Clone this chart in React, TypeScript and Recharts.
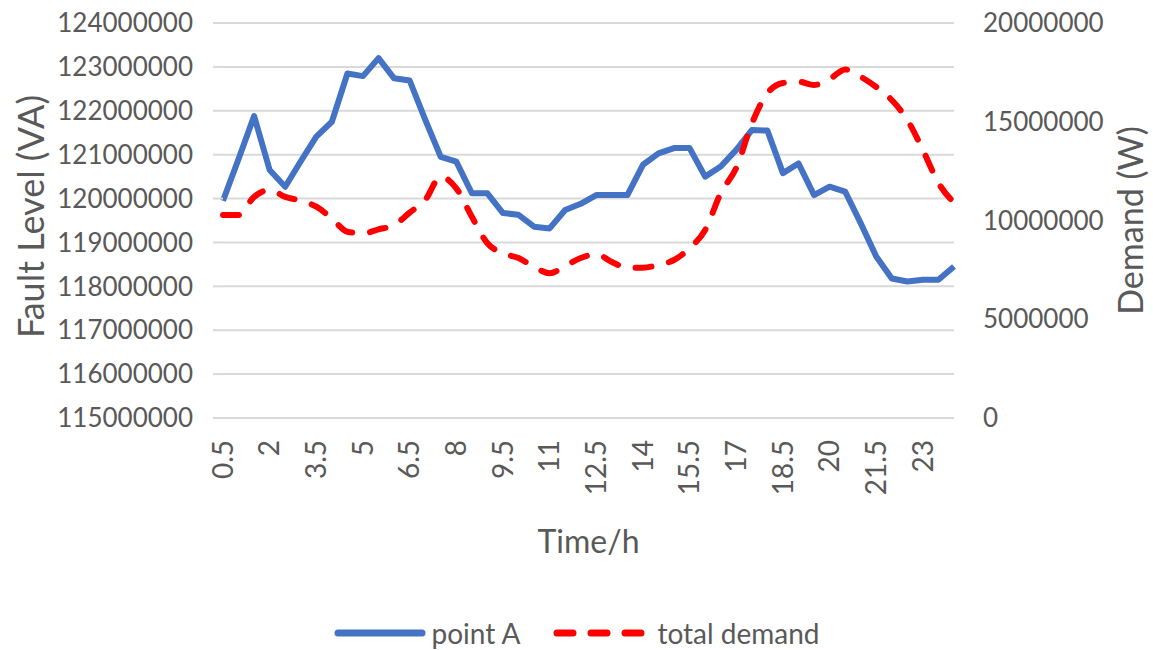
import React from 'react';
import {
  CartesianGrid,
  Label,
  Legend,
  Line,
  LineChart,
  XAxis,
  YAxis,
} from 'recharts';

const hours = [
  '0.5', '1', '1.5', '2', '2.5', '3', '3.5', '4', '4.5', '5', '5.5', '6',
  '6.5', '7', '7.5', '8', '8.5', '9', '9.5', '10', '10.5', '11', '11.5', '12',
  '12.5', '13', '13.5', '14', '14.5', '15', '15.5', '16', '16.5', '17', '17.5', '18',
  '18.5', '19', '19.5', '20', '20.5', '21', '21.5', '22', '22.5', '23', '23.5', '24',
];

// fault level at point A (VA)
const pointA = [
  119950000, 120900000, 121880000, 120650000, 120270000, 120850000, 121410000, 121750000,
  122850000, 122790000, 123200000, 122740000, 122690000, 121800000, 120950000, 120840000,
  120120000, 120120000, 119670000, 119630000, 119360000, 119320000, 119740000, 119880000,
  120080000, 120080000, 120080000, 120770000, 121030000, 121150000, 121150000, 120500000,
  120730000, 121110000, 121560000, 121550000, 120580000, 120800000, 120080000, 120270000,
  120160000, 119440000, 118680000, 118180000, 118110000, 118150000, 118150000, 118450000,
];

// total demand (W)
const totalDemand = [
  10280000, 10280000, 11200000, 11550000, 11200000, 11000000, 10700000, 10100000,
  9430000, 9350000, 9550000, 9770000, 10400000, 11040000, 12220000, 11630000,
  10190000, 8850000, 8340000, 8100000, 7650000, 7330000, 7700000, 8100000,
  8300000, 7900000, 7610000, 7610000, 7750000, 8000000, 8600000, 9520000,
  11380000, 12660000, 14900000, 16440000, 16960000, 17030000, 16860000, 17150000,
  17650000, 17280000, 16760000, 16100000, 15090000, 13570000, 11900000, 10900000,
];

const leftTicks = [
  115000000, 116000000, 117000000, 118000000, 119000000,
  120000000, 121000000, 122000000, 123000000, 124000000,
];
const rightTicks = [0, 5000000, 10000000, 15000000, 20000000];

const data = hours.map((h, i) => ({
  time: h,
  pointA: pointA[i],
  demand: totalDemand[i],
}));

const TEXT = '#595959';
const BLUE = '#4472C4';
const RED = '#FF0000';
const GRID = '#D9D9D9';

function TimeTick({ x, y, payload }: any) {
  return (
    <text
      x={x}
      y={y}
      dy="0.35em"
      transform={`rotate(-90 ${x} ${y})`}
      textAnchor="end"
      fontSize={28}
      fill={TEXT}
    >
      {payload.value}
    </text>
  );
}

function renderLegend() {
  return (
    <div
      style={{
        display: 'flex',
        justifyContent: 'center',
        alignItems: 'flex-end',
        height: 62,
        gap: 33,
        fontSize: 28,
        color: TEXT,
        lineHeight: '34px',
      }}
    >
      <div style={{ display: 'flex', alignItems: 'center' }}>
        <svg width={92} height={12}>
          <line x1={4} y1={6} x2={88} y2={6} stroke={BLUE} strokeWidth={7} strokeLinecap="round" />
        </svg>
        <span style={{ marginLeft: 6 }}>point A</span>
      </div>
      <div style={{ display: 'flex', alignItems: 'center' }}>
        <svg width={98} height={12}>
          <line
            x1={4}
            y1={6}
            x2={94}
            y2={6}
            stroke={RED}
            strokeWidth={7}
            strokeLinecap="round"
            strokeDasharray="16 18"
          />
        </svg>
        <span style={{ marginLeft: 6 }}>total demand</span>
      </div>
    </div>
  );
}

export default function App() {
  return (
    <div style={{ position: 'absolute', left: 0, top: 0, fontFamily: 'Lato, sans-serif', background: '#fff' }}>
      <LineChart
        width={1153}
        height={650}
        data={data}
        margin={{ top: 23, right: 0, left: 0, bottom: 0 }}
      >
        <CartesianGrid yAxisId="left" vertical={false} stroke={GRID} strokeWidth={2} />
        <XAxis
          dataKey="time"
          interval={2}
          height={170}
          axisLine={false}
          tickLine={false}
          tickSize={0}
          tickMargin={22}
          tick={<TimeTick />}
        >
          <Label
            content={({ viewBox }: any) => (
              <text
                x={viewBox.x + viewBox.width / 2}
                y={553}
                textAnchor="middle"
                fontSize={32}
                fill={TEXT}
              >
                Time/h
              </text>
            )}
          />
        </XAxis>
        <YAxis
          yAxisId="left"
          width={223}
          domain={[115000000, 124000000]}
          ticks={leftTicks}
          axisLine={false}
          tickLine={{ stroke: GRID, strokeWidth: 2 }}
          tickSize={10}
          tickMargin={20}
          tick={{ fontSize: 26, fill: TEXT }}
        >
          <Label
            content={({ viewBox }: any) => {
              const cx = 31;
              const cy = viewBox.y + viewBox.height / 2 - 4;
              return (
                <text
                  x={cx}
                  y={cy}
                  dy="0.35em"
                  transform={`rotate(-90 ${cx} ${cy})`}
                  textAnchor="middle"
                  fontSize={36}
                  fill={TEXT}
                >
                  Fault Level (VA)
                </text>
              );
            }}
          />
        </YAxis>
        <YAxis
          yAxisId="right"
          orientation="right"
          width={199}
          domain={[0, 20000000]}
          ticks={rightTicks}
          axisLine={false}
          tickLine={false}
          tickSize={0}
          tickMargin={29}
          tick={{ fontSize: 26, fill: TEXT }}
        >
          <Label
            content={({ viewBox }: any) => {
              const cx = 1131;
              const cy = viewBox.y + viewBox.height / 2;
              return (
                <text
                  x={cx}
                  y={cy}
                  dy="0.35em"
                  transform={`rotate(-90 ${cx} ${cy})`}
                  textAnchor="middle"
                  fontSize={34}
                  fill={TEXT}
                >
                  Demand (W)
                </text>
              );
            }}
          />
        </YAxis>
        <Legend verticalAlign="bottom" height={62} content={renderLegend} />
        <Line
          yAxisId="left"
          type="linear"
          dataKey="pointA"
          name="point A"
          stroke={BLUE}
          strokeWidth={6}
          strokeLinejoin="round"
          dot={false}
          isAnimationActive={false}
        />
        <Line
          yAxisId="right"
          type="monotone"
          dataKey="demand"
          name="total demand"
          stroke={RED}
          strokeWidth={6}
          strokeDasharray="16 18"
          strokeLinecap="round"
          dot={false}
          isAnimationActive={false}
        />
      </LineChart>
    </div>
  );
}
